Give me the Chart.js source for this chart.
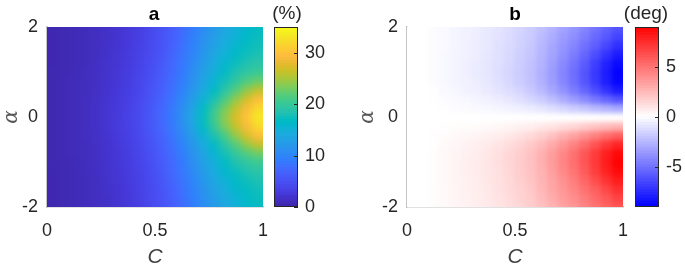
<!DOCTYPE html>
<html><head><meta charset="utf-8">
<script src="https://cdn.jsdelivr.net/npm/chart.js@4/dist/chart.umd.min.js"></script>
<style>
html,body{margin:0;padding:0;background:#fff;}
#wrap{position:relative;width:685px;height:268px;overflow:hidden;font-family:"Liberation Sans",Arial,sans-serif;}
canvas{position:absolute;top:0;}
.lbl{position:absolute;color:#262626;font-size:19px;line-height:19px;white-space:nowrap;transform:translate(-50%,-50%);}
.ttl{font-weight:bold;color:#000;}
</style></head><body>
<div id="wrap">
<canvas id="hmA" style="left:0" width="300" height="271"></canvas>
<canvas id="hmB" style="left:356px" width="304" height="271"></canvas>
<canvas id="cbA" style="left:270px" width="72" height="268"></canvas>
<canvas id="cbB" style="left:631px" width="54" height="268"></canvas>
<div class="lbl ttl" style="left:154px;top:13px">a</div>
<div class="lbl ttl" style="left:515px;top:13px">b</div>
<div class="lbl" style="left:287px;top:12px">(%)</div>
<div class="lbl" style="left:646px;top:12px">(deg)</div>
</div>
<script>
// ---------------- data ----------------
const cValues = [0.025,0.075,0.125,0.175,0.225,0.275,0.325,0.375,0.425,0.475,0.525,0.575,0.625,0.675,0.725,0.775,0.825,0.875,0.925,0.975];
const alphaValues = [2.0,1.8,1.6,1.4,1.2,1.0,0.8,0.6,0.4,0.2,0,-0.2,-0.4,-0.6,-0.8,-1.0,-1.2,-1.4,-1.6,-1.8,-2.0];
const xRange = [0,1];
const yRange = [-2,2];
const xTicks = [0,0.5,1];
const yTicks = [-2,0,2];

// panel a: (%) — one row per alpha value, one column per C value
const panelA = [
 [0.3,0.5,0.7,0.9,1.2,1.5,1.9,2.4,3.0,3.9,4.8,6.0,7.3,8.9,10.5,12.0,13.5,14.8,15.9,16.8],
 [0.3,0.5,0.7,0.9,1.2,1.5,1.9,2.5,3.1,4.0,4.9,6.1,7.5,9.1,10.8,12.4,13.9,15.2,16.3,17.1],
 [0.3,0.5,0.7,0.9,1.2,1.6,2.0,2.5,3.2,4.1,5.0,6.3,7.8,9.4,11.2,12.9,14.5,15.8,16.8,17.5],
 [0.3,0.5,0.7,0.9,1.2,1.6,2.1,2.6,3.3,4.2,5.2,6.5,8.1,9.8,11.7,13.5,15.1,16.4,17.4,18.0],
 [0.3,0.5,0.7,0.9,1.3,1.7,2.1,2.7,3.4,4.3,5.4,6.8,8.4,10.2,12.2,14.1,15.8,17.2,18.2,18.9],
 [0.4,0.5,0.7,1.0,1.3,1.7,2.2,2.8,3.6,4.5,5.7,7.0,8.7,10.6,12.6,14.7,16.6,18.2,19.4,20.2],
 [0.4,0.6,0.8,1.0,1.3,1.8,2.3,2.9,3.7,4.7,5.9,7.3,9.0,11.0,13.2,15.4,17.6,19.6,21.3,22.5],
 [0.4,0.6,0.8,1.0,1.4,1.8,2.4,3.0,3.8,4.9,6.1,7.6,9.5,11.6,14.0,16.5,19.0,21.5,24.0,26.0],
 [0.4,0.6,0.8,1.1,1.4,1.9,2.5,3.1,4.0,5.1,6.4,8.0,10.0,12.4,15.2,18.0,21.0,24.0,26.8,29.5],
 [0.4,0.6,0.8,1.1,1.5,2.0,2.6,3.2,4.1,5.3,6.7,8.4,10.6,13.2,16.5,19.8,23.0,26.0,29.0,32.0],
 [0.4,0.6,0.8,1.1,1.5,2.0,2.6,3.3,4.2,5.4,6.8,8.5,10.8,13.6,17.0,20.5,23.8,27.0,30.0,33.2],
 [0.4,0.6,0.8,1.1,1.5,2.0,2.6,3.2,4.1,5.3,6.7,8.4,10.6,13.2,16.5,19.8,23.0,26.0,29.0,32.0],
 [0.4,0.6,0.8,1.1,1.4,1.9,2.5,3.1,4.0,5.1,6.4,8.0,10.0,12.4,15.2,18.0,21.0,24.0,26.8,29.5],
 [0.4,0.6,0.8,1.0,1.4,1.8,2.4,3.0,3.8,4.9,6.1,7.6,9.5,11.6,14.0,16.5,19.0,21.5,24.0,26.0],
 [0.4,0.6,0.8,1.0,1.3,1.8,2.3,2.9,3.7,4.7,5.9,7.3,9.0,11.0,13.2,15.4,17.6,19.6,21.3,22.5],
 [0.4,0.5,0.7,1.0,1.3,1.7,2.2,2.8,3.6,4.5,5.7,7.0,8.7,10.6,12.6,14.7,16.6,18.2,19.4,20.2],
 [0.3,0.5,0.7,0.9,1.3,1.7,2.1,2.7,3.4,4.3,5.4,6.8,8.4,10.2,12.2,14.1,15.8,17.2,18.2,18.9],
 [0.3,0.5,0.7,0.9,1.2,1.6,2.1,2.6,3.3,4.2,5.2,6.5,8.1,9.8,11.7,13.5,15.1,16.4,17.4,18.0],
 [0.3,0.5,0.7,0.9,1.2,1.6,2.0,2.5,3.2,4.1,5.0,6.3,7.8,9.4,11.2,12.9,14.5,15.8,16.8,17.5],
 [0.3,0.5,0.7,0.9,1.2,1.5,1.9,2.5,3.1,4.0,4.9,6.1,7.5,9.1,10.8,12.4,13.9,15.2,16.3,17.1],
 [0.3,0.5,0.7,0.9,1.2,1.5,1.9,2.4,3.0,3.9,4.8,6.0,7.3,8.9,10.5,12.0,13.5,14.8,15.9,16.8]
];

// panel b: (deg)
const panelB = [
 [0,0,-0.1,-0.2,-0.35,-0.45,-0.6,-0.75,-0.95,-1.2,-1.45,-1.75,-2.2,-2.7,-3.2,-3.7,-4.3,-4.9,-5.5,-6.0],
 [0,0,-0.1,-0.2,-0.35,-0.5,-0.6,-0.8,-1.0,-1.25,-1.55,-1.85,-2.35,-2.9,-3.5,-4.0,-4.6,-5.3,-5.9,-6.6],
 [0,0,-0.1,-0.2,-0.35,-0.5,-0.65,-0.8,-1.05,-1.3,-1.6,-1.95,-2.5,-3.1,-3.7,-4.3,-5.0,-5.7,-6.5,-7.3],
 [0,0,-0.1,-0.25,-0.4,-0.5,-0.65,-0.85,-1.1,-1.35,-1.7,-2.05,-2.6,-3.2,-3.9,-4.6,-5.4,-6.3,-7.2,-8.0],
 [0,0,-0.1,-0.25,-0.4,-0.55,-0.7,-0.9,-1.1,-1.4,-1.75,-2.15,-2.7,-3.4,-4.15,-4.9,-5.8,-6.8,-7.8,-8.6],
 [0,0,-0.1,-0.25,-0.4,-0.55,-0.7,-0.9,-1.15,-1.45,-1.8,-2.2,-2.8,-3.5,-4.3,-5.1,-6.0,-7.0,-8.0,-8.9],
 [0,0,-0.1,-0.25,-0.4,-0.5,-0.65,-0.85,-1.1,-1.4,-1.75,-2.15,-2.75,-3.45,-4.25,-5.05,-5.95,-6.95,-7.95,-8.8],
 [0,0,-0.05,-0.2,-0.3,-0.45,-0.55,-0.75,-0.95,-1.2,-1.5,-1.9,-2.45,-3.1,-3.8,-4.6,-5.4,-6.3,-7.2,-8.0],
 [0,0,-0.05,-0.1,-0.2,-0.3,-0.4,-0.5,-0.65,-0.85,-1.1,-1.4,-1.8,-2.3,-2.9,-3.5,-4.1,-4.8,-5.4,-6.0],
 [0,0,0,-0.05,-0.1,-0.15,-0.2,-0.25,-0.35,-0.45,-0.55,-0.7,-0.9,-1.15,-1.45,-1.75,-2.05,-2.4,-2.7,-3.0],
 [0,0,0,0,0,0,0,0,0,0,0,0,0,0,0,0,0,0,0,0],
 [0,0,0,0.05,0.1,0.1,0.15,0.2,0.3,0.4,0.5,0.6,0.8,1.0,1.25,1.5,1.8,2.1,2.4,2.6],
 [0,0,0.05,0.1,0.2,0.3,0.4,0.5,0.65,0.8,1.05,1.35,1.7,2.2,2.75,3.3,3.9,4.5,5.1,5.6],
 [0,0,0.05,0.2,0.3,0.45,0.55,0.75,0.95,1.2,1.5,1.9,2.4,3.0,3.7,4.4,5.2,6.1,7.0,7.7],
 [0,0,0.1,0.25,0.4,0.5,0.65,0.85,1.1,1.4,1.75,2.15,2.75,3.45,4.25,5.05,5.95,6.9,7.9,8.7],
 [0,0,0.1,0.25,0.4,0.55,0.7,0.9,1.15,1.45,1.8,2.2,2.8,3.5,4.3,5.1,6.0,7.0,8.0,8.9],
 [0,0,0.1,0.25,0.4,0.55,0.7,0.9,1.1,1.4,1.75,2.15,2.7,3.4,4.15,4.9,5.8,6.8,7.8,8.6],
 [0,0,0.1,0.25,0.4,0.5,0.65,0.85,1.1,1.35,1.7,2.05,2.6,3.2,3.9,4.6,5.4,6.3,7.2,8.0],
 [0,0,0.1,0.2,0.35,0.5,0.65,0.8,1.05,1.3,1.6,1.95,2.5,3.1,3.7,4.3,5.0,5.7,6.5,7.3],
 [0,0,0.1,0.2,0.35,0.5,0.6,0.8,1.0,1.25,1.55,1.85,2.35,2.9,3.5,4.0,4.6,5.3,5.9,6.6],
 [0,0,0.1,0.2,0.35,0.45,0.6,0.75,0.95,1.2,1.45,1.75,2.2,2.7,3.2,3.7,4.3,4.9,5.5,6.0]
];

const cbRangeA = [0,35];
const cbTicksA = [0,10,20,30];
const cbRangeB = [-9,9];
const cbTicksB = [-5,0,5];

// ---------------- styles ----------------
const PARULA = [
[0.2422,0.1504,0.6603],[0.2504,0.1650,0.7076],[0.2578,0.1818,0.7511],[0.2647,0.1978,0.7952],
[0.2706,0.2147,0.8364],[0.2751,0.2342,0.8710],[0.2783,0.2559,0.8991],[0.2803,0.2782,0.9221],
[0.2813,0.3006,0.9414],[0.2810,0.3228,0.9579],[0.2795,0.3447,0.9717],[0.2760,0.3667,0.9829],
[0.2699,0.3892,0.9906],[0.2602,0.4123,0.9952],[0.2440,0.4358,0.9988],[0.2206,0.4603,0.9973],
[0.1963,0.4847,0.9892],[0.1834,0.5074,0.9798],[0.1786,0.5289,0.9682],[0.1764,0.5499,0.9520],
[0.1687,0.5703,0.9359],[0.1540,0.5902,0.9218],[0.1460,0.6091,0.9079],[0.1380,0.6276,0.8973],
[0.1248,0.6459,0.8883],[0.1113,0.6635,0.8763],[0.0952,0.6798,0.8598],[0.0689,0.6948,0.8394],
[0.0297,0.7082,0.8163],[0.0036,0.7203,0.7917],[0.0067,0.7312,0.7660],[0.0433,0.7411,0.7394],
[0.0964,0.7500,0.7120],[0.1408,0.7584,0.6842],[0.1717,0.7670,0.6554],[0.1938,0.7758,0.6251],
[0.2161,0.7843,0.5923],[0.2470,0.7918,0.5567],[0.2906,0.7973,0.5188],[0.3406,0.8008,0.4789],
[0.3909,0.8029,0.4354],[0.4456,0.8024,0.3909],[0.5044,0.7993,0.3480],[0.5616,0.7942,0.3045],
[0.6174,0.7876,0.2612],[0.6720,0.7793,0.2227],[0.7242,0.7698,0.1910],[0.7738,0.7598,0.1646],
[0.8203,0.7498,0.1535],[0.8634,0.7406,0.1596],[0.9035,0.7330,0.1774],[0.9393,0.7288,0.2100],
[0.9728,0.7298,0.2394],[0.9956,0.7434,0.2371],[0.9970,0.7659,0.2199],[0.9952,0.7893,0.2028],
[0.9892,0.8136,0.1885],[0.9786,0.8386,0.1766],[0.9676,0.8639,0.1643],[0.9610,0.8890,0.1537],
[0.9597,0.9135,0.1423],[0.9628,0.9373,0.1265],[0.9691,0.9606,0.1064],[0.9769,0.9839,0.0805]];

const TEXT = '#262626';
const AXIS_LINE = '#c4c4c4';
const FONT = 'Liberation Sans, Arial, sans-serif';
const clamp = (v,a,b)=>Math.max(a,Math.min(b,v));

function parulaColor(v){
  const t = clamp((v-cbRangeA[0])/(cbRangeA[1]-cbRangeA[0]),0,1);
  const f = t*63, i = Math.min(62,Math.floor(f)), u = f-i;
  const a = PARULA[i], b = PARULA[i+1];
  const c = a.map((x,k)=>Math.round(255*(x+(b[k]-x)*u)));
  return `rgb(${c[0]},${c[1]},${c[2]})`;
}
function bwrColor(v){
  const t = clamp(v/cbRangeB[1],-1,1);
  if (t<0){ const k=Math.round(255*(1+t)); return `rgb(${k},${k},255)`; }
  const k=Math.round(255*(1-t)); return `rgb(255,${k},${k})`;
}

Chart.defaults.font.family = FONT;
Chart.defaults.font.size = 18;
Chart.defaults.color = TEXT;
Chart.defaults.animation = false;

// colorbar frame + inner tick marks
const framePlugin = {
  id:'frame',
  afterDatasetsDraw(chart){
    const {ctx, chartArea:a} = chart;
    const ys = chart.scales.y;
    ctx.save();
    ctx.strokeStyle = TEXT; ctx.lineWidth = 1;
    ctx.strokeRect(Math.round(a.left)+0.5, Math.round(a.top)+0.5, Math.round(a.right-a.left)-1, Math.round(a.bottom-a.top)-1);
    ys.ticks.forEach(t=>{
      const y = Math.round(ys.getPixelForValue(t.value))+0.5;
      ctx.beginPath(); ctx.moveTo(a.right-4,y); ctx.lineTo(a.right,y); ctx.stroke();
    });
    ctx.restore();
  }
};

// smooth ('interp'-like) shading of the drawn cells
const smoothPlugin = {
  id:'smooth',
  afterDatasetsDraw(chart, args, opts){
    const radius = (opts && opts.radius) || 3;
    const {ctx, chartArea:a, canvas} = chart;
    const x=Math.round(a.left), y=Math.round(a.top), w=Math.round(a.right)-x, h=Math.round(a.bottom)-y;
    const m=12;
    const tmp=document.createElement('canvas'); tmp.width=w+2*m; tmp.height=h+2*m;
    const t=tmp.getContext('2d');
    t.drawImage(canvas, x,y,w,h, m,m,w,h);
    t.drawImage(canvas, x,y,1,h, 0,m,m,h);
    t.drawImage(canvas, x+w-1,y,1,h, m+w,m,m,h);
    t.drawImage(tmp, 0,m,w+2*m,1, 0,0,w+2*m,m);
    t.drawImage(tmp, 0,m+h-1,w+2*m,1, 0,m+h,w+2*m,m);
    ctx.save(); ctx.beginPath(); ctx.rect(x,y,w,h); ctx.clip();
    ctx.filter=`blur(${radius}px)`;
    ctx.drawImage(tmp, x-m, y-m);
    ctx.restore();
  }
};

function heatmap(id, grid, colorFn, yWidth, blur){
  const half = Math.abs(alphaValues[0]-alphaValues[1])/2;
  const datasets = alphaValues.map((a,i)=>({
    data: cValues.map(c=>({x:c, y:[Math.max(yRange[0],a-half), Math.min(yRange[1],a+half)]})),
    backgroundColor: grid[i].map(colorFn),
    borderWidth:0, grouped:false, barPercentage:1, categoryPercentage:1, inflateAmount:0.6
  }));
  return new Chart(document.getElementById(id), {
    type:'bar',
    data:{datasets},
    options:{
      responsive:false, animation:false,
      layout:{padding:{top:27,left:0,right:37,bottom:0}},
      plugins:{legend:{display:false}, tooltip:{enabled:false}, smooth:{radius:blur}},
      scales:{
        x:{type:'linear', min:xRange[0], max:xRange[1], offset:false,
           grid:{display:true, drawOnChartArea:false, drawTicks:true, tickLength:10, tickColor:'rgba(0,0,0,0)'},
           border:{display:true,color:AXIS_LINE,width:1.5},
           afterBuildTicks:s=>{s.ticks = xTicks.map(v=>({value:v}));},
           ticks:{padding:3, color:TEXT, callback:v=>String(v), maxRotation:0},
           title:{display:true, text:'C', color:'#404040', font:{style:'italic',size:21}, padding:{top:0,bottom:1}},
           afterFit:s=>{s.height=64;}},
        y:{type:'linear', min:yRange[0], max:yRange[1],
           grid:{display:false, drawTicks:false}, border:{display:true,color:AXIS_LINE,width:1.5},
           afterBuildTicks:s=>{s.ticks = yTicks.map(v=>({value:v}));},
           ticks:{padding:9, color:TEXT, callback:v=>String(v)},
           title:{display:true, text:'α', color:'#555', font:{family:'DejaVu Serif, Liberation Serif, serif', style:'italic', size:20}, padding:{top:0,bottom:0}},
           afterFit:s=>{s.width=yWidth;}}
      }
    },
    plugins:[smoothPlugin]
  });
}

function colorbar(id, range, ticks, colorFn, nLevels, rightW){
  const step = (range[1]-range[0])/nLevels;
  const datasets = [];
  for(let i=0;i<nLevels;i++){
    const lo = range[0]+i*step, hi = lo+step;
    datasets.push({data:[[lo,hi]], backgroundColor:colorFn((lo+hi)/2), borderWidth:0, grouped:false, barPercentage:1, categoryPercentage:1, inflateAmount:0.6});
  }
  return new Chart(document.getElementById(id), {
    type:'bar',
    data:{labels:[''], datasets},
    options:{
      responsive:false, animation:false,
      layout:{padding:{top:27,left:4,right:0,bottom:61}},
      plugins:{legend:{display:false}, tooltip:{enabled:false}},
      scales:{
        x:{display:false},
        y:{position:'right', min:range[0], max:range[1],
           grid:{display:false, drawTicks:false}, border:{display:false},
           afterBuildTicks:s=>{s.ticks = ticks.map(v=>({value:v}));},
           ticks:{padding:7, color:TEXT, callback:v=>String(v)},
           afterFit:s=>{s.width=rightW;}}
      }
    },
    plugins:[framePlugin]
  });
}

heatmap('hmA', panelA, parulaColor, 47, 3.5);
heatmap('hmB', panelB, bwrColor, 51, 2.5);
colorbar('cbA', cbRangeA, cbTicksA, parulaColor, 64, 44);
colorbar('cbB', cbRangeB, cbTicksB, bwrColor, 64, 26);
</script>
</body></html>
